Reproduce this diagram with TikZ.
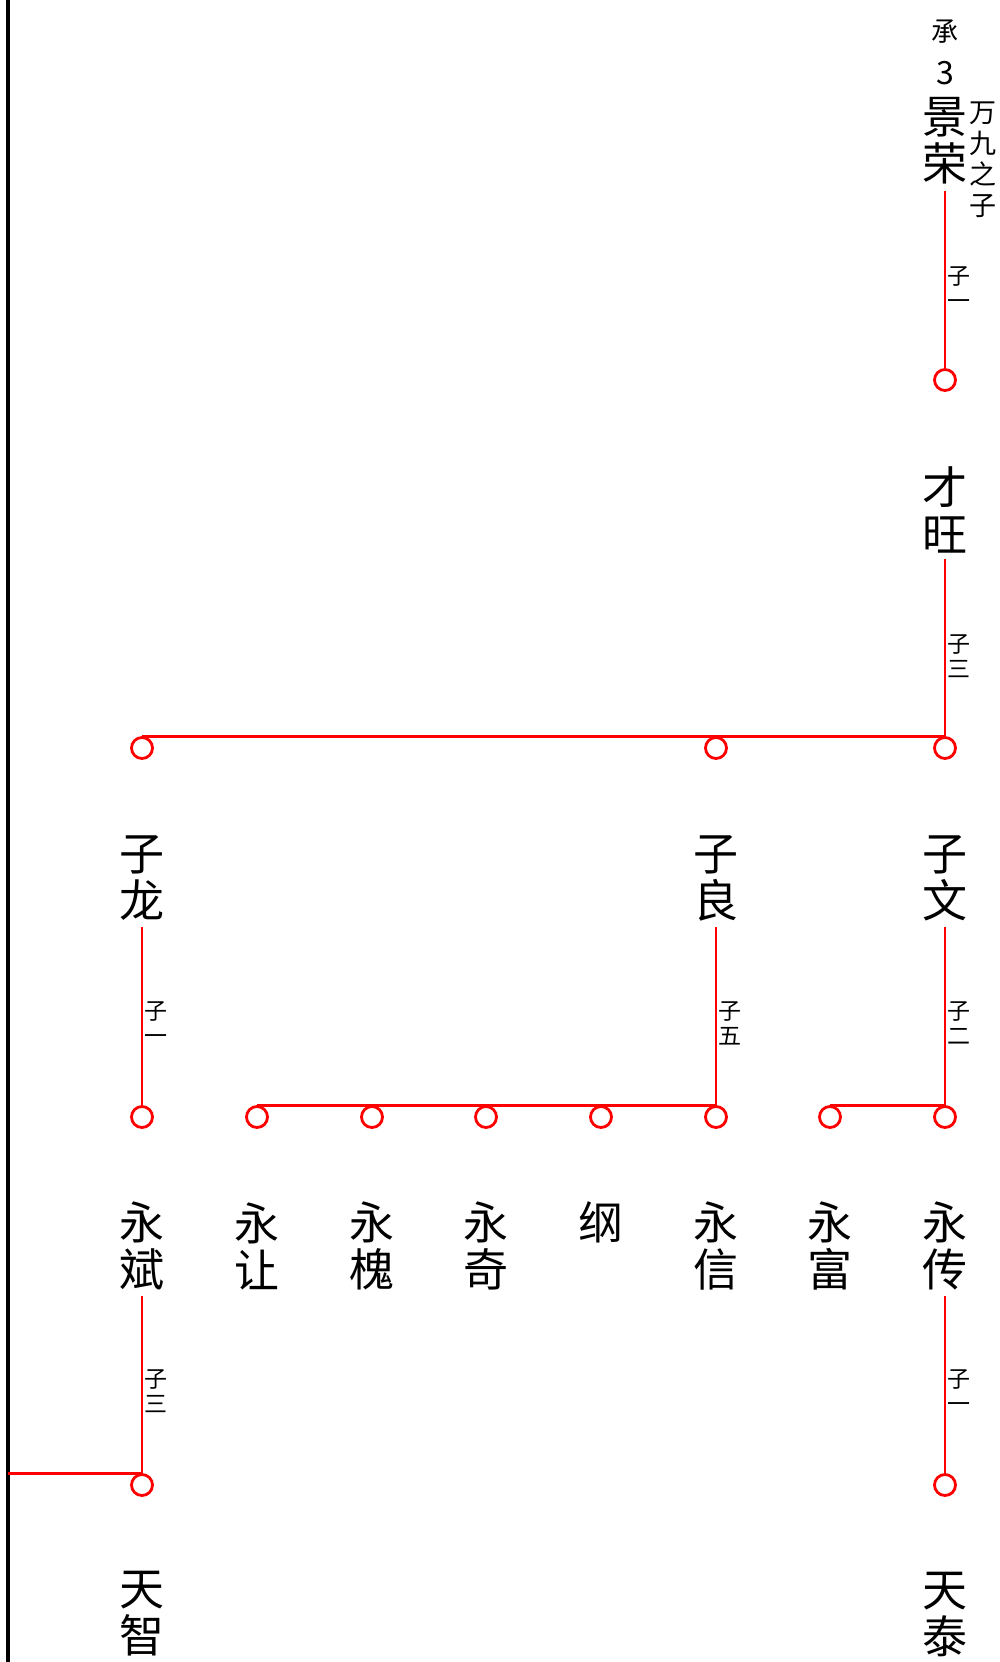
\documentclass[tikz,border=0pt]{standalone}
\usepackage{fontspec}
\setmainfont{Noto Sans CJK SC}
\begin{document}
\begin{tikzpicture}[x=1pt,y=-1pt,
  nm/.style={font=\fontsize{45}{47}\selectfont, align=center, inner xsep=0pt, inner ysep=6pt},
  lbl/.style={font=\fontsize{23}{25}\selectfont, align=center, inner sep=0pt},
  md/.style={font=\fontsize{27}{31}\selectfont, align=center, inner sep=0pt},
  circ/.style={circle, draw=red, line width=2.8pt, minimum size=21pt, inner sep=0pt},
  rl/.style={draw=red, line width=2.9pt},
  bl/.style={draw=black, line width=3.3pt}
]
\useasboundingbox (0,0) rectangle (1000,1662);
% left border
\coordinate (ltop) at (8,0);
\coordinate (lbot) at (8,1662);
\draw[bl] (ltop) -- (lbot);

% generation 1
\node[md] (cheng) at (945,32) {承};
\node[font=\fontsize{32}{34}\selectfont, inner sep=0pt] (num) at (945,73) {3};
\node[nm] (jr) at (945,141) {景\\荣};
\node[md] (wj) at (983,160) {万\\九\\之\\子};
\node[lbl] (l0) at (959,288) {子\\一};
\node[circ] (c0) at (945,380) {};
\draw[rl] (jr.south) -- (c0.north);

% generation 2
\node[nm] (cw) at (945,510) {才\\旺};
\node[lbl] (l1) at (959,656) {子\\三};
\node[circ] (c1a) at (945,748) {};
\node[circ] (c1b) at (716,748) {};
\node[circ] (c1c) at (142,748) {};
\draw[rl] (cw.south) -- (c1a.north) -- (c1c.north);

% generation 3
\node[nm] (zlong) at (142,878) {子\\龙};
\node[nm] (zliang) at (716,878) {子\\良};
\node[nm] (zwen) at (945,878) {子\\文};
\node[lbl] (l2) at (156,1023) {子\\一};
\node[lbl] (l3) at (730,1023) {子\\五};
\node[lbl] (l4) at (959,1023) {子\\二};
\node[circ] (d1) at (142,1117) {};
\node[circ] (d2) at (257,1117) {};
\node[circ] (d3) at (372,1117) {};
\node[circ] (d4) at (486,1117) {};
\node[circ] (d5) at (601,1117) {};
\node[circ] (d6) at (716,1117) {};
\node[circ] (d7) at (830,1117) {};
\node[circ] (d8) at (945,1117) {};
\draw[rl] (zlong.south) -- (d1.north);
\draw[rl] (zliang.south) -- (d6.north) -- (d2.north);
\draw[rl] (zwen.south) -- (d8.north) -- (d7.north);

% generation 4
\node[nm] (ybin) at (142,1246) {永\\斌};
\node[nm] (yrang) at (257,1246) {永\\让};
\node[nm] (yhuai) at (372,1246) {永\\槐};
\node[nm] (yqi) at (486,1246) {永\\奇};
\node[nm] (gang) at (601,1222) {纲};
\node[nm] (yxin) at (716,1246) {永\\信};
\node[nm] (yfu) at (830,1246) {永\\富};
\node[nm] (ychuan) at (945,1246) {永\\传};
\node[lbl] (l5) at (156,1391) {子\\三};
\node[lbl] (l6) at (959,1391) {子\\一};
\node[circ] (e1) at (142,1485) {};
\node[circ] (e2) at (945,1485) {};
\draw[rl] (ybin.south) -- (e1.north) -- (e1.north -| ltop);
\draw[rl] (ychuan.south) -- (e2.north);

% generation 5
\node[nm] (tzhi) at (142,1614) {天\\智};
\node[nm] (ttai) at (945,1614) {天\\泰};
\end{tikzpicture}
\end{document}
